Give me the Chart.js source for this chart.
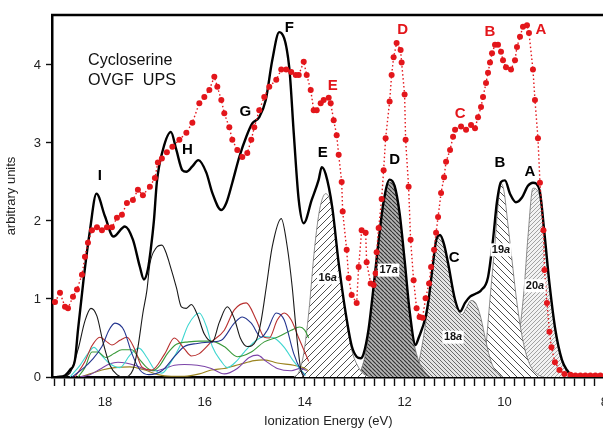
<!DOCTYPE html>
<html>
<head>
<meta charset="utf-8">
<script src="https://cdn.jsdelivr.net/npm/chart.js@4.4.1/dist/chart.umd.min.js"></script>
<style>
  html, body { margin: 0; padding: 0; overflow: hidden; background: #fff; }
</style>
</head>
<body>
<canvas id="spec" width="617" height="431"></canvas>
<script>
// ionization energy (eV), intensity (arbitrary units)

// experimental UPS (red dots)
const upsExp = [[19.00,0.96],[18.90,1.08],[18.80,0.90],[18.74,0.88],[18.64,1.03],[18.56,1.12],[18.46,1.31],[18.40,1.54],[18.34,1.72],[18.26,1.88],[18.16,1.92],[18.06,1.88],[17.96,1.92],[17.86,1.92],[17.76,2.04],[17.66,2.08],[17.56,2.23],[17.44,2.27],[17.34,2.40],[17.24,2.33],[17.10,2.44],[17.00,2.55],[16.94,2.75],[16.86,2.80],[16.76,2.88],[16.65,2.95],[16.51,3.04],[16.37,3.13],[16.25,3.26],[16.11,3.51],[16.01,3.59],[15.91,3.68],[15.81,3.85],[15.75,3.72],[15.67,3.55],[15.61,3.38],[15.51,3.20],[15.45,3.04],[15.35,2.91],[15.25,2.82],[15.15,2.87],[15.07,3.04],[15.01,3.20],[14.91,3.42],[14.81,3.59],[14.71,3.72],[14.57,3.81],[14.47,3.94],[14.37,3.94],[14.27,3.91],[14.18,3.87],[14.12,3.87],[14.02,4.04],[13.96,3.87],[13.88,3.68],[13.82,3.42],[13.76,3.42],[13.68,3.51],[13.62,3.55],[13.52,3.58],[13.48,3.51],[13.42,3.29],[13.36,3.10],[13.32,2.85],[13.26,2.50],[13.24,2.12],[13.16,1.63],[13.12,1.27],[13.06,1.05],[12.96,0.95],[12.92,1.41],[12.86,1.88],[12.78,1.85],[12.76,1.47],[12.68,1.20],[12.62,1.18],[12.58,1.33],[12.56,1.60],[12.52,1.91],[12.46,2.28],[12.42,2.65],[12.38,3.06],[12.30,3.53],[12.26,3.87],[12.22,4.10],[12.16,4.28],[12.08,4.19],[12.06,4.03],[12.00,3.62],[11.98,3.04],[11.92,2.44],[11.88,1.76],[11.82,1.24],[11.76,0.88],[11.70,0.77],[11.64,0.76],[11.58,1.01],[11.51,1.20],[11.47,1.41],[11.41,1.63],[11.37,1.85],[11.33,2.05],[11.27,2.36],[11.21,2.56],[11.17,2.76],[11.09,2.91],[11.03,3.08],[10.99,3.17],[10.87,3.21],[10.77,3.17],[10.67,3.23],[10.59,3.19],[10.53,3.33],[10.47,3.46],[10.43,3.59],[10.37,3.77],[10.33,3.90],[10.29,4.03],[10.25,4.15],[10.19,4.26],[10.13,4.26],[10.07,4.17],[10.03,4.06],[9.97,3.97],[9.87,3.94],[9.79,4.06],[9.75,4.23],[9.69,4.36],[9.63,4.49],[9.55,4.51],[9.51,4.41],[9.43,3.94],[9.39,3.55],[9.33,3.06],[9.29,2.49],[9.22,1.88],[9.20,1.37],[9.15,0.95],[9.10,0.58],[9.06,0.38],[8.99,0.19],[8.90,0.09],[8.80,0.04],[8.68,0.03],[8.58,0.02],[8.48,0.02],[8.38,0.02],[8.28,0.02],[8.18,0.02],[8.08,0.02]];

// OVGF simulated envelope (thick black)
const ovgfTotal = [[18.96,0],[18.80,0.02],[18.70,0.09],[18.60,0.22],[18.54,0.60],[18.43,1.24],[18.30,1.88],[18.17,2.35],[18.00,2.06],[17.83,1.80],[17.60,1.93],[17.44,1.76],[17.30,1.41],[17.22,1.25],[17.14,1.38],[17.08,1.65],[17.02,2.00],[16.96,2.50],[16.84,2.91],[16.68,3.14],[16.57,2.91],[16.45,2.65],[16.37,2.63],[16.25,2.70],[16.13,2.78],[15.97,2.62],[15.85,2.36],[15.67,2.14],[15.57,2.23],[15.45,2.49],[15.31,2.82],[15.17,3.08],[15.05,3.25],[14.91,3.33],[14.78,3.55],[14.65,4.06],[14.51,4.42],[14.31,3.97],[14.22,3.13],[14.12,2.27],[14.02,1.97],[13.86,2.27],[13.72,2.53],[13.66,2.69],[13.58,2.60],[13.45,2.18],[13.32,1.46],[13.18,0.82],[13.06,0.40],[12.96,0.26],[12.88,0.24],[12.82,0.30],[12.72,0.62],[12.64,1.05],[12.52,1.75],[12.42,2.25],[12.30,2.53],[12.20,2.45],[12.10,2.10],[12.00,1.50],[11.90,0.85],[11.78,0.41],[11.72,0.50],[11.58,0.77],[11.52,0.99],[11.43,1.46],[11.37,1.75],[11.29,1.82],[11.21,1.70],[11.13,1.46],[10.99,0.99],[10.89,0.84],[10.79,0.95],[10.69,1.03],[10.57,1.07],[10.47,1.11],[10.33,1.28],[10.23,1.76],[10.15,2.25],[10.07,2.50],[9.99,2.52],[9.89,2.35],[9.77,2.24],[9.65,2.30],[9.53,2.45],[9.43,2.49],[9.30,2.40],[9.20,1.84],[9.10,1.20],[8.98,0.60],[8.85,0.22],[8.75,0.09],[8.62,0.01],[8.40,0]];

// hatched outer-valence bands
const band16a = [[14.22,0],[14.12,0.06],[14.02,0.30],[13.92,0.82],[13.80,1.67],[13.70,2.15],[13.58,2.35],[13.45,2.15],[13.32,1.45],[13.18,0.80],[13.06,0.35],[12.92,0.12],[12.82,0.04],[12.68,0]];
const band17a = [[12.96,0],[12.88,0.08],[12.80,0.25],[12.72,0.55],[12.64,1.00],[12.52,1.72],[12.42,2.20],[12.30,2.50],[12.20,2.42],[12.10,2.08],[12.00,1.48],[11.90,0.82],[11.80,0.40],[11.70,0.18],[11.60,0.07],[11.49,0]];
const band18a = [[11.88,0],[11.78,0.05],[11.68,0.30],[11.58,0.68],[11.52,0.95],[11.43,1.45],[11.37,1.72],[11.29,1.80],[11.21,1.68],[11.13,1.44],[11.03,1.10],[10.93,0.86],[10.85,0.80],[10.77,0.88],[10.67,0.98],[10.57,0.94],[10.47,0.75],[10.37,0.45],[10.27,0.20],[10.17,0.07],[10.03,0]];
const band19a = [[10.49,0],[10.43,0.05],[10.37,0.40],[10.29,1.00],[10.19,1.72],[10.13,2.20],[10.07,2.48],[10.01,2.38],[9.93,1.95],[9.85,1.50],[9.77,1.05],[9.67,0.60],[9.57,0.30],[9.47,0.13],[9.33,0.03],[9.23,0]];
const band20a = [[9.81,0],[9.73,0.40],[9.61,1.11],[9.53,1.80],[9.43,2.42],[9.30,2.33],[9.20,1.80],[9.10,1.17],[8.98,0.57],[8.85,0.20],[8.75,0.07],[8.62,0]];

// inner-valence components (thin lines)
const compBlack = [[18.86,0],[18.70,0.05],[18.54,0.35],[18.40,0.72],[18.28,0.88],[18.16,0.78],[18.04,0.45],[17.90,0.15],[17.76,0.03],[17.62,0],[17.44,0.09],[17.34,0.38],[17.24,0.82],[17.16,1.11],[17.10,1.45],[16.98,1.65],[16.86,1.69],[16.78,1.60],[16.71,1.46],[16.57,1.15],[16.47,0.90],[16.37,0.88],[16.27,0.93],[16.15,0.80],[16.01,0.55],[15.85,0.45],[15.71,0.70],[15.55,0.90],[15.41,0.75],[15.29,0.50],[15.15,0.39],[14.97,0.47],[14.87,0.73],[14.77,1.15],[14.65,1.67],[14.47,2.03],[14.35,1.67],[14.25,1.15],[14.20,0.80],[14.14,0.40],[14.08,0.10],[14.02,0]];
const compNavy = [[18.66,0],[18.40,0.13],[18.26,0.22],[18.06,0.39],[17.92,0.60],[17.80,0.69],[17.62,0.60],[17.46,0.30],[17.30,0.09],[17.12,0.03],[16.86,0.08],[16.61,0.26],[16.41,0.39],[16.15,0.43],[15.85,0.45],[15.67,0.47],[15.41,0.69],[15.25,0.77],[15.07,0.69],[14.87,0.51],[14.75,0.60],[14.57,0.82],[14.41,0.73],[14.22,0.30],[14.08,0.09],[14.00,0.02]];
const compRed = [[18.60,0],[18.40,0.20],[18.26,0.40],[18.10,0.51],[17.98,0.46],[17.86,0.41],[17.70,0.47],[17.56,0.51],[17.40,0.35],[17.26,0.13],[17.06,0.09],[16.80,0.30],[16.61,0.50],[16.41,0.36],[16.27,0.27],[16.11,0.30],[15.87,0.45],[15.61,0.60],[15.41,0.86],[15.17,0.95],[14.97,0.73],[14.81,0.51],[14.71,0.50],[14.55,0.73],[14.41,0.82],[14.27,0.73],[14.12,0.50],[14.02,0.35],[13.92,0.20]];
const compGreen = [[18.54,0],[18.40,0.12],[18.26,0.32],[18.14,0.32],[17.98,0.25],[17.82,0.30],[17.66,0.35],[17.46,0.35],[17.30,0.22],[17.16,0.12],[17.04,0.08],[16.90,0.15],[16.75,0.30],[16.57,0.42],[16.33,0.45],[16.11,0.46],[15.87,0.46],[15.61,0.39],[15.35,0.26],[15.07,0.32],[14.81,0.45],[14.55,0.51],[14.27,0.60],[14.10,0.64],[14.00,0.60],[13.92,0.50]];
const compCyan = [[18.70,0],[18.50,0.15],[18.34,0.30],[18.22,0.38],[18.10,0.30],[17.92,0.18],[17.70,0.12],[17.50,0.28],[17.32,0.37],[17.16,0.25],[17.00,0.09],[16.86,0.05],[16.67,0.20],[16.51,0.38],[16.33,0.67],[16.11,0.82],[15.97,0.65],[15.85,0.39],[15.67,0.20],[15.55,0.12],[15.37,0.20],[15.21,0.32],[15.01,0.45],[14.81,0.52],[14.61,0.50],[14.41,0.38],[14.22,0.20],[14.06,0.08],[13.98,0.02]];
const compPurple = [[18.50,0],[18.30,0.03],[18.10,0.10],[17.90,0.17],[17.74,0.19],[17.58,0.18],[17.40,0.15],[17.20,0.10],[17.00,0.08],[16.80,0.11],[16.61,0.15],[16.41,0.16],[16.15,0.15],[15.87,0.11],[15.61,0.04],[15.35,0.11],[15.11,0.25],[14.95,0.28],[14.77,0.20],[14.55,0.11],[14.27,0.08],[14.08,0.11],[13.96,0.08]];
const compOlive = [[18.50,0],[18.30,0.04],[18.06,0.09],[17.80,0.12],[17.50,0.13],[17.20,0.09],[16.94,0.03],[16.67,0.01],[16.41,0.01],[16.11,0.04],[15.87,0.09],[15.61,0.11],[15.31,0.16],[15.01,0.21],[14.81,0.22],[14.55,0.18],[14.22,0.15],[14.02,0.12],[13.92,0.08]];

// peak letters
const ovgfLetters = ['I','H','G','F','E','D','C','B','A'];
const ovgfLetterE = [18.10,16.35,15.19,14.31,13.64,12.20,11.01,10.09,9.49];
const ovgfLetterY = [2.58,2.91,3.40,4.47,2.87,2.78,1.53,2.74,2.63];
const upsLetters = ['E','D','C','B','A'];
const upsLetterE = [13.44,12.04,10.89,10.29,9.27];
const upsLetterY = [3.73,4.45,3.37,4.42,4.45];

// band labels (number + italic a)
const bandNames = ['16','17','18','19','20'];
const bandLabelE = [13.54,12.32,11.03,10.07,9.39];
const bandLabelY = [1.27,1.37,0.51,1.63,1.17];

const FONT = '"Liberation Sans", Arial, sans-serif';
const P = a => a.map(([x, y]) => ({x, y}));

function hatch(step, slash, ink, width, paper) {
  const c = document.createElement('canvas');
  c.width = c.height = step;
  const g = c.getContext('2d');
  g.fillStyle = paper;
  g.fillRect(0, 0, step, step);
  g.strokeStyle = ink;
  g.lineWidth = width;
  g.beginPath();
  for (let k = -1; k <= 1; k++) {
    const o = k * step;
    if (slash) { g.moveTo(o, step); g.lineTo(o + step, 0); }
    else { g.moveTo(o, 0); g.lineTo(o + step, step); }
  }
  g.stroke();
  return g.createPattern(c, 'repeat');
}

const thin = (pts, color) => ({
  data: P(pts), borderColor: color, borderWidth: 1.1, pointRadius: 0,
  fill: false, cubicInterpolationMode: 'monotone'
});
const band = (pts, pattern) => ({
  data: P(pts), borderColor: '#707070', borderWidth: 0.8, pointRadius: 0,
  backgroundColor: pattern, fill: 'origin', cubicInterpolationMode: 'monotone'
});

const decor = {
  id: 'decor',
  afterDraw(chart) {
    const {ctx, chartArea: a, scales: {x, y}} = chart;
    ctx.save();
    // top frame
    ctx.strokeStyle = '#000';
    ctx.lineWidth = 2.5;
    ctx.beginPath();
    ctx.moveTo(a.left - 1, a.top);
    ctx.lineTo(a.right, a.top);
    ctx.lineTo(a.right, a.bottom);
    ctx.stroke();

    // title block
    ctx.fillStyle = '#111';
    ctx.textAlign = 'left';
    ctx.textBaseline = 'alphabetic';
    ctx.font = '17px ' + FONT;
    [['Cycloserine', 50], ['OVGF  UPS', 70]].forEach(([s, dy]) => {
      ctx.save();
      ctx.translate(a.left + 36, a.top + dy);
      ctx.scale(0.95, 1);
      ctx.fillText(s, 0, 0);
      ctx.restore();
    });

    // peak letters
    ctx.textAlign = 'center';
    ctx.textBaseline = 'middle';
    ctx.font = 'bold 15px ' + FONT;
    ctx.fillStyle = '#000';
    ovgfLetters.forEach((t, i) => ctx.fillText(t, x.getPixelForValue(ovgfLetterE[i]), y.getPixelForValue(ovgfLetterY[i])));
    ctx.fillStyle = '#e3161b';
    upsLetters.forEach((t, i) => ctx.fillText(t, x.getPixelForValue(upsLetterE[i]), y.getPixelForValue(upsLetterY[i])));

    // band labels
    bandNames.forEach((n, i) => {
      const cx = x.getPixelForValue(bandLabelE[i]);
      const cy = y.getPixelForValue(bandLabelY[i]);
      ctx.font = 'bold 11px ' + FONT;
      const w1 = ctx.measureText(n).width;
      ctx.font = 'italic bold 11px ' + FONT;
      const w2 = ctx.measureText('a').width;
      const w = w1 + w2;
      ctx.fillStyle = '#fff';
      ctx.fillRect(cx - w / 2 - 1.5, cy - 6.5, w + 3, 13);
      ctx.fillStyle = '#111';
      ctx.textAlign = 'left';
      ctx.font = 'bold 11px ' + FONT;
      ctx.fillText(n, cx - w / 2, cy);
      ctx.font = 'italic bold 11px ' + FONT;
      ctx.fillText('a', cx - w / 2 + w1, cy);
    });
    ctx.restore();
  }
};

new Chart(document.getElementById('spec'), {
  type: 'line',
  data: {
    datasets: [
      {
        data: P(upsExp), borderColor: '#e3161b', borderWidth: 1.4, borderDash: [1.5, 2.5],
        pointRadius: 3, pointBackgroundColor: '#e3161b', pointBorderWidth: 0,
        tension: 0, fill: false
      },
      {
        data: P(ovgfTotal), borderColor: '#000', borderWidth: 2.4, pointRadius: 0,
        fill: false, cubicInterpolationMode: 'monotone'
      },
      thin(compBlack, '#1a1a1a'),
      thin(compNavy, '#24358f'),
      thin(compRed, '#b8302f'),
      thin(compGreen, '#3a9a3a'),
      thin(compCyan, '#3ed6d0'),
      thin(compPurple, '#7b44a8'),
      thin(compOlive, '#9b8420'),
      band(band16a, hatch(7, true, '#3a3a3a', 0.9, '#ffffff')),
      band(band17a, hatch(4, false, '#303030', 1.1, '#b4b4b4')),
      band(band18a, hatch(4, false, '#6a6a6a', 1.0, '#e4e4e4')),
      band(band19a, hatch(7, false, '#3a3a3a', 0.9, '#ffffff')),
      band(band20a, hatch(4, true, '#999999', 0.9, '#f2f2f2'))
    ]
  },
  options: {
    responsive: false,
    animation: false,
    layout: { padding: { top: 15, left: 0, right: 0, bottom: 0 } },
    plugins: { legend: { display: false }, tooltip: { enabled: false } },
    scales: {
      x: {
        type: 'linear', reverse: true, min: 8, max: 19.06,
        border: { display: true, color: '#000', width: 2.5 },
        grid: { drawOnChartArea: false, tickLength: 9, tickColor: '#111', tickWidth: 1.4 },
        ticks: {
          stepSize: 0.2, autoSkip: false, maxRotation: 0, includeBounds: false, padding: 9,
          color: '#222', font: { family: FONT, size: 13 },
          callback: v => {
            const r = Math.round(v);
            return Math.abs(v - r) < 1e-6 && r % 2 === 0 ? String(r) : '';
          }
        },
        title: {
          display: true, text: 'Ionization Energy (eV)', color: '#222',
          font: { family: FONT, size: 13 }, padding: { top: 0, bottom: 2 }
        },
        afterFit: s => { s.height = 54; }
      },
      y: {
        min: 0, max: 4.64,
        border: { display: true, color: '#000', width: 2.5 },
        grid: { drawOnChartArea: false, tickLength: 6, tickColor: '#111', tickWidth: 1.4 },
        ticks: { stepSize: 1, includeBounds: false, padding: 5, color: '#222', font: { family: FONT, size: 13 } },
        title: {
          display: true, text: 'arbitrary units', color: '#222',
          font: { family: FONT, size: 13 }, padding: { top: 4, bottom: 0 }
        },
        afterFit: s => { s.width = 52; }
      }
    }
  },
  plugins: [decor]
});
</script>
</body>
</html>
